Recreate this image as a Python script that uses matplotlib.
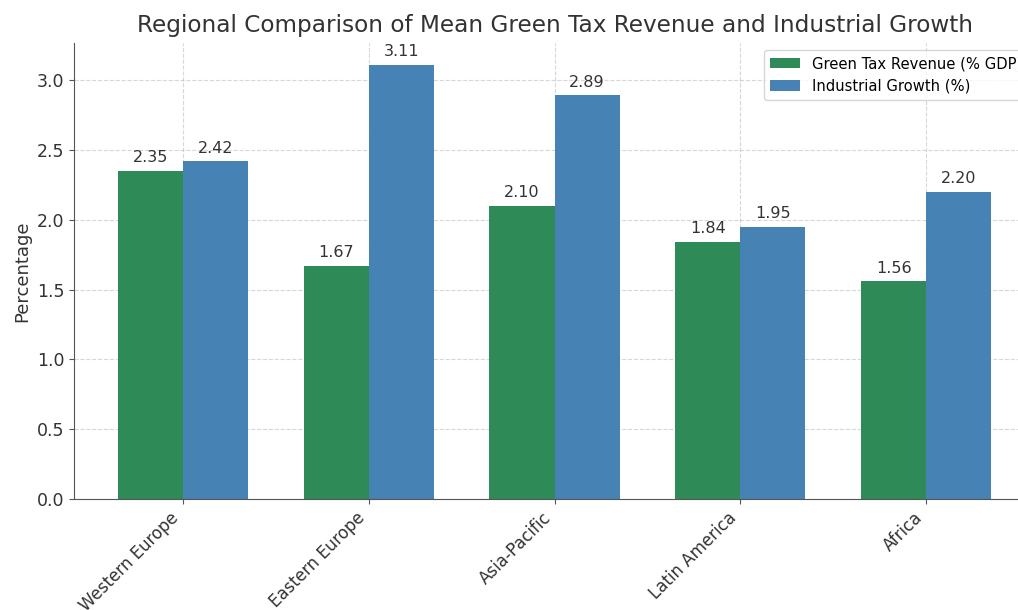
import numpy as np
from matplotlib import pyplot as plt

regions = ['Western Europe', 'Eastern Europe', 'Asia-Pacific', 'Latin America', 'Africa']
green_tax = [2.35, 1.67, 2.10, 1.84, 1.56]
ind_growth = [2.42, 3.11, 2.89, 1.95, 2.20]

fig = plt.figure(figsize=(10.18, 6.1), dpi=100)
# the source image is cropped on the right, so the axes run past the edge
ax = fig.add_axes([0.0727, 0.182, 0.944, 0.7475])

x = np.arange(len(regions))
w = 0.35
b1 = ax.bar(x - w/2, green_tax, w, color='#2e8b57', label='Green Tax Revenue (% GDP)')
b2 = ax.bar(x + w/2, ind_growth, w, color='#4682b4', label='Industrial Growth (%)')

for bars in (b1, b2):
	for b in bars:
		h = b.get_height()
		ax.annotate('%.2f' % h, (b.get_x() + b.get_width()/2, h),
			xytext=(0, 4), textcoords='offset points', ha='center', va='bottom',
			fontsize=11.5, color='#333333')

ax.set_ylim(0, 3.11*1.05)
ax.set_xticks(x)
ax.set_xticklabels(regions, rotation=45, ha='right', fontsize=12)
ax.tick_params(axis='y', labelsize=12.5)
ax.tick_params(axis='both', labelcolor='#333333', color='#555555')
ax.set_ylabel('Percentage', fontsize=13, color='#333333')
ax.set_title('Regional Comparison of Mean Green Tax Revenue and Industrial Growth',
	fontsize=16.7, color='#333333', pad=8)
ax.grid(True, linestyle='--', alpha=0.5)
ax.set_axisbelow(True)
ax.legend(loc='upper right', fontsize=10.6)
for s in ['top', 'right']:
	ax.spines[s].set_visible(False)
for s in ['left', 'bottom']:
	ax.spines[s].set_color('#555555')

fig.savefig('out.png', dpi=100)
